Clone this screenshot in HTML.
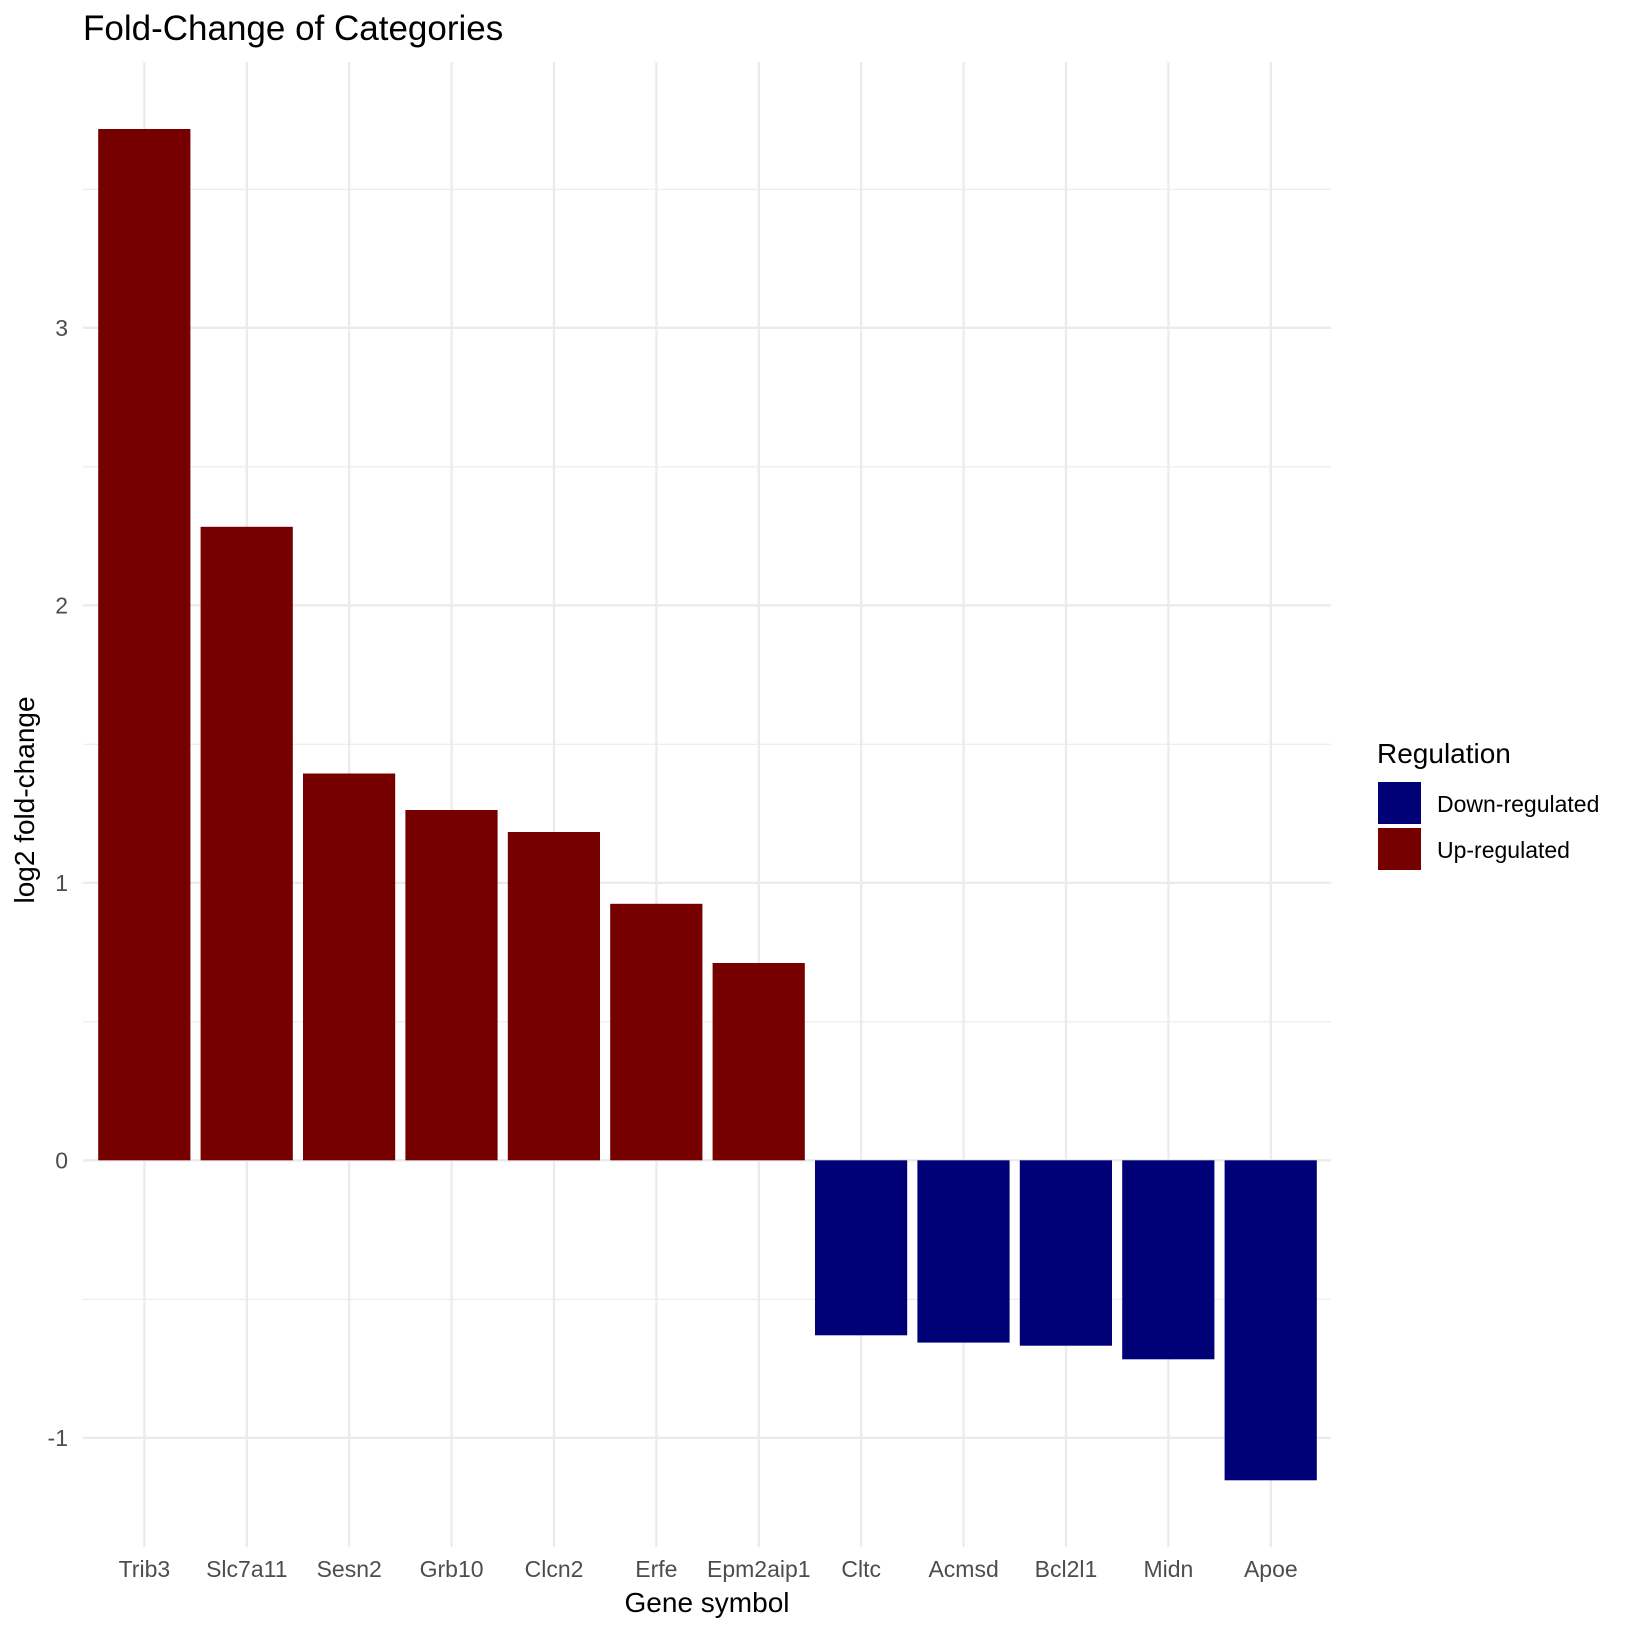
<!DOCTYPE html>
<html><head><meta charset="utf-8"><style>html,body{margin:0;padding:0;background:#fff}svg{display:block}</style></head>
<body>
<svg width="1632" height="1632" xmlns="http://www.w3.org/2000/svg" font-family="Liberation Sans, Arial, sans-serif">
<rect width="1632" height="1632" fill="#fff"/>
<g stroke="#EBEBEB">
<g stroke-width="1.2">
<line x1="83" x2="1331" y1="189.3" y2="189.3"/>
<line x1="83" x2="1331" y1="466.8" y2="466.8"/>
<line x1="83" x2="1331" y1="744.3" y2="744.3"/>
<line x1="83" x2="1331" y1="1021.8" y2="1021.8"/>
<line x1="83" x2="1331" y1="1299.3" y2="1299.3"/>
</g>
<g stroke-width="2.3">
<line x1="83" x2="1331" y1="327.8" y2="327.8"/>
<line x1="83" x2="1331" y1="605.3" y2="605.3"/>
<line x1="83" x2="1331" y1="882.8" y2="882.8"/>
<line x1="83" x2="1331" y1="1160.3" y2="1160.3"/>
<line x1="83" x2="1331" y1="1437.8" y2="1437.8"/>
<line x1="144.4" x2="144.4" y1="62" y2="1547"/>
<line x1="246.8" x2="246.8" y1="62" y2="1547"/>
<line x1="349.2" x2="349.2" y1="62" y2="1547"/>
<line x1="451.6" x2="451.6" y1="62" y2="1547"/>
<line x1="554" x2="554" y1="62" y2="1547"/>
<line x1="656.4" x2="656.4" y1="62" y2="1547"/>
<line x1="758.8" x2="758.8" y1="62" y2="1547"/>
<line x1="861.2" x2="861.2" y1="62" y2="1547"/>
<line x1="963.6" x2="963.6" y1="62" y2="1547"/>
<line x1="1066" x2="1066" y1="62" y2="1547"/>
<line x1="1168.4" x2="1168.4" y1="62" y2="1547"/>
<line x1="1270.8" x2="1270.8" y1="62" y2="1547"/>
</g>
</g>
<g fill="#760000">
<rect x="98.2" y="129" width="92.2" height="1031.3"/>
<rect x="200.6" y="526.8" width="92.2" height="633.5"/>
<rect x="303" y="773.5" width="92.2" height="386.8"/>
<rect x="405.4" y="810" width="92.2" height="350.3"/>
<rect x="507.8" y="832" width="92.2" height="328.3"/>
<rect x="610.2" y="903.8" width="92.2" height="256.5"/>
<rect x="712.6" y="963" width="92.2" height="197.3"/>
</g>
<g fill="#000077">
<rect x="815" y="1160.3" width="92.2" height="175"/>
<rect x="917.4" y="1160.3" width="92.2" height="182.3"/>
<rect x="1019.8" y="1160.3" width="92.2" height="185.4"/>
<rect x="1122.2" y="1160.3" width="92.2" height="199"/>
<rect x="1224.6" y="1160.3" width="92.2" height="320"/>
</g>
<g fill="#4D4D4D" font-size="23" text-anchor="end">
<text x="68" y="336">3</text>
<text x="68" y="613.5">2</text>
<text x="68" y="891">1</text>
<text x="68" y="1168.5">0</text>
<text x="68" y="1446">-1</text>
</g>
<g fill="#4D4D4D" font-size="23" text-anchor="middle">
<text x="144.4" y="1577">Trib3</text>
<text x="246.8" y="1577">Slc7a11</text>
<text x="349.2" y="1577">Sesn2</text>
<text x="451.6" y="1577">Grb10</text>
<text x="554" y="1577">Clcn2</text>
<text x="656.4" y="1577">Erfe</text>
<text x="758.8" y="1577">Epm2aip1</text>
<text x="861.2" y="1577">Cltc</text>
<text x="963.6" y="1577">Acmsd</text>
<text x="1066" y="1577">Bcl2l1</text>
<text x="1168.4" y="1577">Midn</text>
<text x="1270.8" y="1577">Apoe</text>
</g>
<text x="707" y="1612" font-size="28" text-anchor="middle" fill="#000">Gene symbol</text>
<text transform="translate(34,800) rotate(-90)" font-size="28" text-anchor="middle" fill="#000">log2 fold-change</text>
<text x="83" y="40" font-size="35" fill="#000">Fold-Change of Categories</text>
<text x="1377" y="763" font-size="28" fill="#000">Regulation</text>
<rect x="1378" y="782" width="43" height="42" fill="#000077"/>
<rect x="1378" y="828" width="43" height="42" fill="#760000"/>
<text x="1437" y="812" font-size="23" fill="#000">Down-regulated</text>
<text x="1437" y="858" font-size="23" fill="#000">Up-regulated</text>
</svg>
</body></html>
